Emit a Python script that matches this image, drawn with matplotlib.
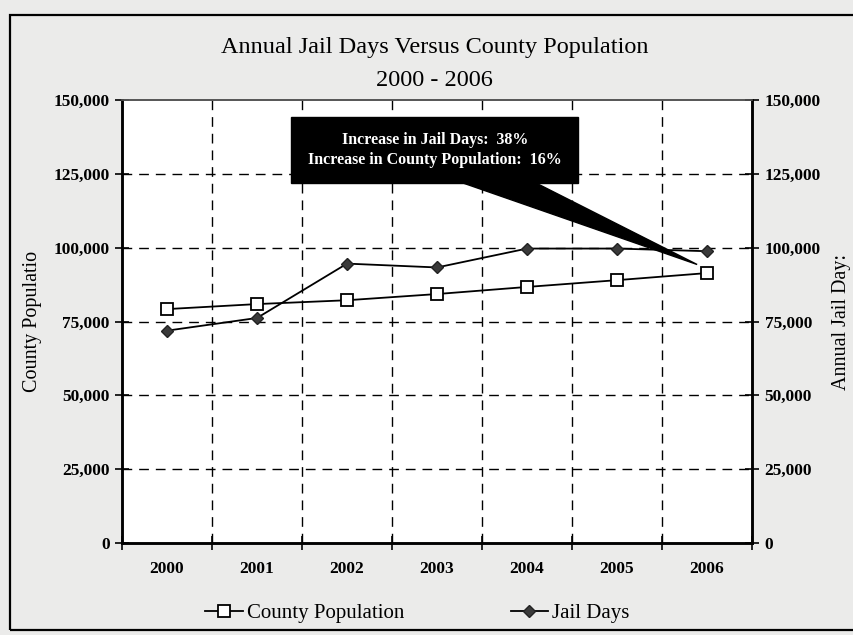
import matplotlib
matplotlib.use("Agg")
import matplotlib.pyplot as plt
from matplotlib.patches import Rectangle, Polygon
from matplotlib.ticker import FuncFormatter

years = ["2000", "2001", "2002", "2003", "2004", "2005", "2006"]
county_population = [79200, 80900, 82200, 84300, 86700, 89000, 91400]
jail_days = [71900, 76200, 94600, 93300, 99700, 99700, 98800]
y_ticks = [0, 25000, 50000, 75000, 100000, 125000, 150000]

serif = ["Liberation Serif", "DejaVu Serif"]
plt.rcParams["font.family"] = serif

fig = plt.figure(figsize=(8.54, 6.35), dpi=100, facecolor="#ebebea")
ax = fig.add_axes([0.1429, 0.1449, 0.7377, 0.6976])
ax.set_facecolor("white")
ax2 = ax.twinx()

x = list(range(len(years)))
ax.set_xlim(-0.5, len(years) - 0.5)
ax.set_ylim(0, 150000)
ax2.set_ylim(0, 150000)

fmt = FuncFormatter(lambda v, p: f"{int(v):,}")
for a in (ax, ax2):
    a.set_yticks(y_ticks)
    a.yaxis.set_major_formatter(fmt)

# horizontal dashed grid
for v in y_ticks[1:-1]:
    ax.axhline(v, color="black", lw=1.0, ls=(0, (7, 5)), zorder=1)
# vertical dashed separators between years
for b in range(len(years) - 1):
    ax.axvline(b + 0.5, color="black", lw=1.0, ls=(0, (7, 5)), zorder=1)

ax.plot(x, county_population, color="black", lw=1.3, marker="s", ms=8.5,
        mfc="white", mec="black", mew=1.3, zorder=4, label="County Population")
ax.plot(x, jail_days, color="black", lw=1.3, marker="D", ms=6.5,
        mfc="#3a3a3a", mec="#222222", mew=1.0, zorder=4, label="Jail Days")

ax.set_xticks([b + 0.5 for b in range(-1, len(years))], minor=False)
ax.set_xticklabels([])
ax.set_xticks(x, minor=True)
ax.set_xticklabels(years, minor=True, fontsize=12.5, fontweight="bold")
ax.tick_params(axis="x", which="major", direction="inout", length=10, width=1.2)
ax.tick_params(axis="x", which="minor", length=0, pad=13)
ax.tick_params(axis="y", direction="inout", length=10, width=1.2, labelsize=12.5, pad=4)
ax2.tick_params(axis="y", direction="inout", length=10, width=1.2, labelsize=12.5, pad=4)
for t in ax.get_yticklabels() + ax2.get_yticklabels():
    t.set_fontweight("bold")

for a in (ax, ax2):
    a.spines["left"].set_linewidth(1.8)
    a.spines["right"].set_linewidth(1.8)
    a.spines["bottom"].set_linewidth(1.8)
    a.spines["top"].set_linewidth(1.2)
    a.spines["top"].set_color("#555555")

ax.set_ylabel("County Populatio", fontsize=14.5, labelpad=8)
ax2.set_ylabel("Annual Jail Day:", fontsize=14.5, labelpad=8, rotation=90)

fig.text(0.509, 0.925, "Annual Jail Days Versus County Population",
         ha="center", va="center", fontsize=17.5)
fig.text(0.509, 0.873, "2000 - 2006", ha="center", va="center", fontsize=17.5)

# callout box with pointer
box = Rectangle((1.38, 122000), 3.19, 22300, facecolor="black",
                edgecolor="black", zorder=6, clip_on=False)
ax.add_patch(box)
wedge = Polygon([(3.26, 122200), (4.08, 122200), (5.89, 94300)],
                closed=True, facecolor="black", edgecolor="black", zorder=6)
ax.add_patch(wedge)
ax.text(2.975, 133200, "Increase in Jail Days:  38%\nIncrease in County Population:  16%",
        ha="center", va="center", color="white", fontsize=11.5,
        fontweight="bold", linespacing=1.35, zorder=7)

handles, labels = ax.get_legend_handles_labels()
fig.legend(handles, labels, loc="center", bbox_to_anchor=(0.489, 0.034), ncol=2,
           frameon=False, fontsize=15, handlelength=1.8, handletextpad=0.2,
           columnspacing=5.1)

# outer chart frame
fig.patches.append(Rectangle((10 / 854, 5 / 635), 1.2, 615 / 635,
                             transform=fig.transFigure, fill=False,
                             edgecolor="black", lw=1.6))

fig.savefig("out.png", dpi=100, facecolor=fig.get_facecolor())
